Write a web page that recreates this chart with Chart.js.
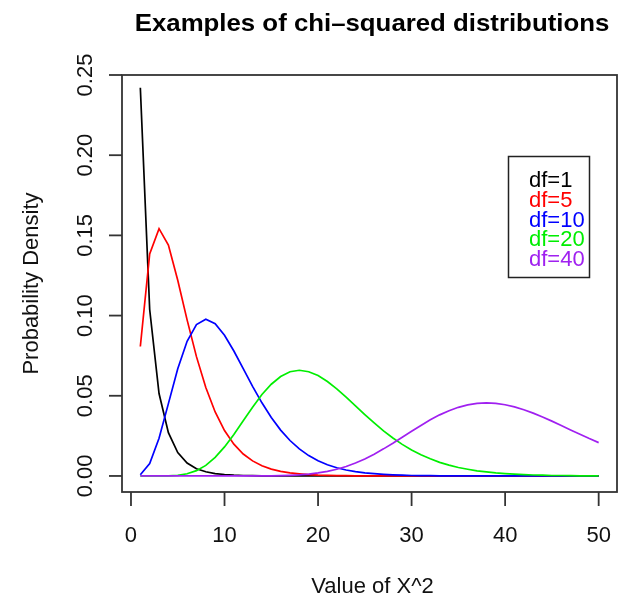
<!DOCTYPE html>
<html>
<head>
<meta charset="utf-8">
<script src="https://cdn.jsdelivr.net/npm/chart.js@4"></script>
<style>
  html, body { margin: 0; padding: 0; background: #fff; }
  canvas { display: block; }
</style>
</head>
<body>
<canvas id="chiChart" width="627" height="597"></canvas>
<script>
// x values (1..50)
const xValues = [1,2,3,4,5,6,7,8,9,10,11,12,13,14,15,16,17,18,19,20,21,22,23,24,25,
  26,27,28,29,30,31,32,33,34,35,36,37,38,39,40,41,42,43,44,45,46,47,48,49,50];

// densities
const df1 = [0.2420,0.1038,0.0514,0.0270,0.0146,0.0081,0.0045,0.0026,0.0015,0.0009,
  0.0005,0.0003,0.0002,0.0001,0.0001,0,0,0,0,0,0,0,0,0,0,0,0,0,0,0,0,0,0,0,0,0,0,0,0,0,
  0,0,0,0,0,0,0,0,0,0];
const df5 = [0.0807,0.1384,0.1542,0.1440,0.1220,0.0973,0.0744,0.0551,0.0399,0.0283,
  0.0198,0.0137,0.0094,0.0064,0.0043,0.0029,0.0019,0.0013,0.0008,0.0005,
  0.0004,0.0002,0.0002,0.0001,0.0001,0,0,0,0,0,0,0,0,0,0,0,0,0,0,0,0,0,0,0,0,0,0,0,0,0];
const df10 = [0.0008,0.0077,0.0235,0.0451,0.0668,0.0840,0.0944,0.0977,0.0949,0.0877,
  0.0779,0.0669,0.0559,0.0456,0.0365,0.0286,0.0221,0.0169,0.0127,0.0095,
  0.0070,0.0051,0.0037,0.0027,0.0019,0.0014,0.0010,0.0007,0.0005,0.0003,
  0.0002,0.0002,0.0001,0.0001,0,0,0,0,0,0,0,0,0,0,0,0,0,0,0,0];
const df20 = [0,0,0,0.0001,0.0004,0.0014,0.0033,0.0066,0.0116,0.0181,
  0.0259,0.0344,0.0429,0.0508,0.0572,0.0620,0.0650,0.0659,0.0650,0.0626,
  0.0589,0.0543,0.0491,0.0437,0.0383,0.0331,0.0281,0.0237,0.0197,0.0162,
  0.0132,0.0107,0.0085,0.0068,0.0053,0.0042,0.0032,0.0025,0.0019,0.0015,
  0.0011,0.0008,0.0006,0.0005,0.0003,0.0003,0.0002,0.0001,0.0001,0.0001];
const df40 = [0,0,0,0,0,0,0,0,0,0,0,0,0,0,0.0001,0.0002,0.0004,0.0007,0.0012,0.0019,
  0.0029,0.0042,0.0059,0.0081,0.0106,0.0136,0.0169,0.0204,0.0241,0.0279,
  0.0315,0.0350,0.0381,0.0407,0.0428,0.0443,0.0452,0.0456,0.0453,0.0444,
  0.0431,0.0413,0.0392,0.0368,0.0342,0.0315,0.0287,0.0260,0.0233,0.0208];

const seriesNames = ['df=1', 'df=5', 'df=10', 'df=20', 'df=40'];
const seriesColors = ['#000000', '#ff0000', '#0000ff', '#00ee00', '#a020f0'];
const xTicks = [0, 10, 20, 30, 40, 50];
const yTicks = ['0.00', '0.05', '0.10', '0.15', '0.20', '0.25'];

const FONT = '"Liberation Sans", Arial, sans-serif';

// R-style box, axes, labels and legend
const rStyle = {
  id: 'rStyle',
  afterDraw(chart) {
    const ctx = chart.ctx;
    const a = chart.chartArea;
    const xs = chart.scales.x, ys = chart.scales.y;
    ctx.save();
    ctx.strokeStyle = '#333';
    ctx.lineWidth = 1.8;
    ctx.strokeRect(a.left, a.top, a.right - a.left, a.bottom - a.top);

    ctx.fillStyle = '#111';
    ctx.font = '22px ' + FONT;
    ctx.textAlign = 'center';
    ctx.textBaseline = 'alphabetic';
    // x axis
    xTicks.forEach(t => {
      const px = xs.getPixelForValue(t);
      ctx.beginPath();
      ctx.moveTo(px, a.bottom);
      ctx.lineTo(px, a.bottom + 14);
      ctx.stroke();
      ctx.fillText(String(t), px, 542);
    });
    // y axis
    yTicks.forEach(t => {
      const py = ys.getPixelForValue(parseFloat(t));
      ctx.beginPath();
      ctx.moveTo(a.left, py);
      ctx.lineTo(a.left - 13, py);
      ctx.stroke();
      ctx.save();
      ctx.translate(92, py);
      ctx.rotate(-Math.PI / 2);
      ctx.fillText(t, 0, 0);
      ctx.restore();
    });
    // axis titles
    ctx.fillText('Value of X^2', (a.left + a.right) / 2 + 3, 593);
    ctx.save();
    ctx.translate(38, (a.top + a.bottom) / 2);
    ctx.rotate(-Math.PI / 2);
    ctx.fillText('Probability Density', 0, 0);
    ctx.restore();
    // title (slightly wide, as in the reference)
    ctx.save();
    ctx.font = 'bold 24px ' + FONT;
    ctx.fillStyle = '#000';
    ctx.translate(372, 31);
    ctx.scale(1.075, 1);
    ctx.fillText('Examples of chi\u2013squared distributions', 0, 0);
    ctx.restore();

    // legend
    ctx.strokeStyle = '#222';
    ctx.lineWidth = 1.5;
    ctx.strokeRect(508.5, 156.5, 81, 121);
    ctx.font = '22px ' + FONT;
    ctx.textAlign = 'left';
    ctx.textBaseline = 'middle';
    seriesNames.forEach((n, i) => {
      ctx.fillStyle = seriesColors[i];
      ctx.fillText(n, 529, 181 + i * 19.75);
    });
    ctx.restore();
  }
};

const allSeries = [df1, df5, df10, df20, df40];

new Chart(document.getElementById('chiChart'), {
  type: 'line',
  data: {
    datasets: allSeries.map((vals, i) => ({
      label: seriesNames[i],
      data: xValues.map((x, j) => ({ x: x, y: vals[j] })),
      borderColor: seriesColors[i],
      borderWidth: 1.7,
      pointRadius: 0,
      tension: 0,
      fill: false,
      order: 5 - i
    }))
  },
  options: {
    responsive: false,
    animation: false,
    layout: { padding: { left: 122, right: 10, top: 75, bottom: 105 } },
    plugins: {
      legend: { display: false },
      tooltip: { enabled: false }
    },
    scales: {
      x: { type: 'linear', min: -0.96, max: 51.96, display: false },
      y: { type: 'linear', min: -0.01, max: 0.25, display: false }
    }
  },
  plugins: [rStyle]
});
</script>
</body>
</html>
